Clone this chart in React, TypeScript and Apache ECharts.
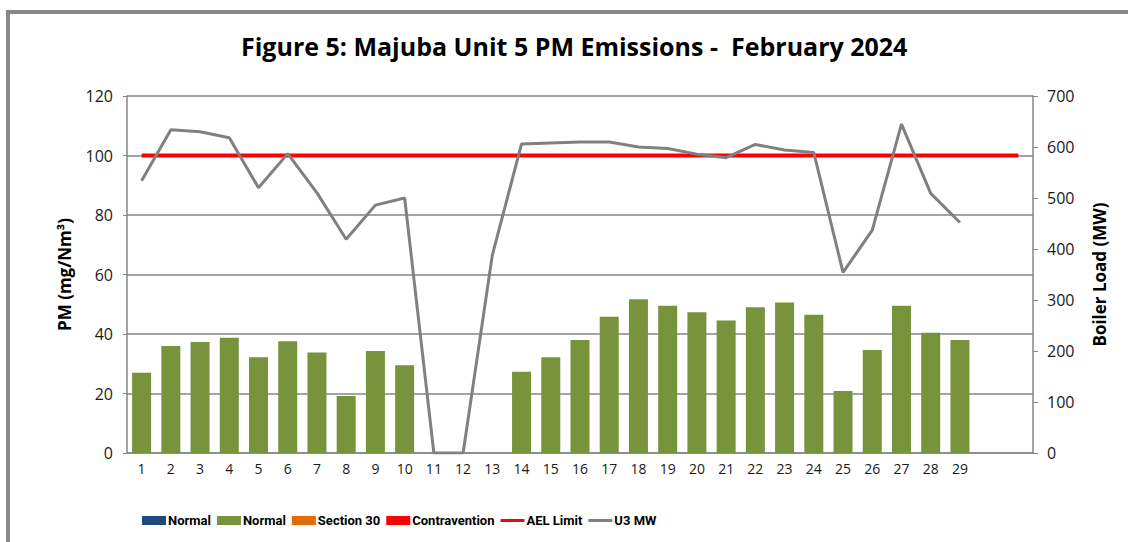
import React, { useEffect, useRef } from "react";
import * as echarts from "echarts";

const days: string[] = [
  "1", "2", "3", "4", "5", "6", "7", "8", "9", "10",
  "11", "12", "13", "14", "15", "16", "17", "18", "19", "20",
  "21", "22", "23", "24", "25", "26", "27", "28", "29", "", "",
];

const pmNormal: (number | null)[] = [
  27.0, 36.0, 37.3, 38.7, 32.2, 37.6, 33.8, 19.2, 34.3, 29.5,
  null, null, null, 27.3, 32.2, 38.0, 45.8, 51.7, 49.5, 47.3,
  44.5, 49.0, 50.6, 46.5, 20.8, 34.6, 49.5, 40.4, 38.0, null, null,
];

const u3MW: (number | null)[] = [
  534, 634, 630, 618, 520, 587, 510, 419, 486, 500,
  0, 0, 388, 606, 608, 610, 610, 600, 597, 586,
  579, 605, 594, 589, 354, 437, 645, 509, 452, null, null,
];

const aelLimit: number[] = [
  100, 100, 100, 100, 100, 100, 100, 100, 100, 100,
  100, 100, 100, 100, 100, 100, 100, 100, 100, 100,
  100, 100, 100, 100, 100, 100, 100, 100, 100, 100, 100,
];

const emptySeries: (number | null)[] = days.map(() => null);

const FONT = "'Open Sans', 'Noto Sans', sans-serif";
const LEGEND_FONT = "Roboto, 'Open Sans', sans-serif";
const AXIS_GRAY = "#868686";
const LINE_ICON = "path://M0,0H24V3H0Z";

export default function App() {
  const ref = useRef<HTMLDivElement>(null);

  useEffect(() => {
    document.body.style.margin = "0";
    if (!ref.current) return;
    const chart = echarts.init(ref.current, undefined, { renderer: "svg" });
    chart.setOption({
      animation: false,
      backgroundColor: "#ffffff",
      textStyle: { fontFamily: FONT },
      title: {
        text: "Figure 5: Majuba Unit 5 PM Emissions -  February 2024",
        left: 236,
        top: 28,
        textStyle: { fontFamily: FONT, fontSize: 25, fontWeight: "bold", color: "#000000" },
      },
      graphic: [
        { type: "rect", shape: { x: 6, y: 10, width: 1122, height: 4 }, style: { fill: "#888888" } },
        { type: "rect", shape: { x: 6, y: 10, width: 4, height: 532 }, style: { fill: "#888888" } },
      ],
      grid: { left: 127, right: 95, top: 96, bottom: 89 },
      legend: {
        left: 142,
        top: 514,
        padding: 0,
        itemWidth: 24,
        itemHeight: 9,
        itemGap: 6,
        formatter: (n: string) => n.trim(),
        textStyle: { fontFamily: LEGEND_FONT, fontSize: 13, fontWeight: "bold", color: "#000000", padding: [0, 0, 0, -3] },
        data: [
          { name: "Normal", icon: "rect" },
          { name: "Normal ", icon: "rect" },
          { name: "Section 30", icon: "rect" },
          { name: "Contravention", icon: "rect" },
          { name: "AEL Limit", icon: LINE_ICON },
          { name: "U3 MW", icon: LINE_ICON },
        ],
      },
      xAxis: {
        type: "category",
        data: days,
        boundaryGap: true,
        axisLine: { lineStyle: { color: AXIS_GRAY, width: 1.5 } },
        axisTick: { alignWithLabel: true, interval: 0, length: 4, lineStyle: { color: AXIS_GRAY } },
        axisLabel: { interval: 0, fontFamily: FONT, fontSize: 14, color: "#1a1a1a", margin: 8 },
      },
      yAxis: [
        {
          type: "value",
          min: 0,
          max: 120,
          interval: 20,
          name: "PM (mg/Nm³)",
          nameLocation: "middle",
          nameGap: 54,
          nameTextStyle: { fontFamily: FONT, fontSize: 17, fontWeight: "bold", color: "#000000" },
          axisLine: { show: true, lineStyle: { color: AXIS_GRAY, width: 1.5 } },
          axisTick: { show: true, length: 4, lineStyle: { color: AXIS_GRAY } },
          axisLabel: { fontFamily: FONT, fontSize: 16, color: "#1a1a1a", margin: 14 },
          splitLine: { show: true, lineStyle: { color: AXIS_GRAY, width: 1.5 } },
        },
        {
          type: "value",
          min: 0,
          max: 700,
          interval: 100,
          position: "right",
          name: "Boiler Load (MW)",
          nameLocation: "middle",
          nameGap: 58,
          nameTextStyle: { fontFamily: FONT, fontSize: 17, fontWeight: "bold", color: "#000000" },
          axisLine: { show: true, lineStyle: { color: AXIS_GRAY, width: 1.5 } },
          axisTick: { show: true, length: 5, lineStyle: { color: AXIS_GRAY } },
          axisLabel: { fontFamily: FONT, fontSize: 16, color: "#1a1a1a", margin: 14 },
          splitLine: { show: false },
        },
      ],
      series: [
        { name: "Normal", type: "bar", stack: "pm", data: emptySeries, itemStyle: { color: "#1F497D" } },
        { name: "Normal ", type: "bar", stack: "pm", data: pmNormal, barWidth: 19, itemStyle: { color: "#77933C" } },
        { name: "Section 30", type: "bar", stack: "pm", data: emptySeries, itemStyle: { color: "#E36C09" } },
        { name: "Contravention", type: "bar", stack: "pm", data: emptySeries, itemStyle: { color: "#FF0000" } },
        {
          name: "AEL Limit",
          type: "line",
          data: aelLimit,
          symbol: "none",
          lineStyle: { color: "#FF0000", width: 4 },
          itemStyle: { color: "#FF0000" },
          z: 3,
        },
        {
          name: "U3 MW",
          type: "line",
          yAxisIndex: 1,
          data: u3MW,
          symbol: "none",
          lineStyle: { color: "#808080", width: 3 },
          itemStyle: { color: "#808080" },
          z: 4,
        },
      ],
    });
    return () => chart.dispose();
  }, []);

  return <div ref={ref} style={{ width: 1128, height: 542 }} />;
}
